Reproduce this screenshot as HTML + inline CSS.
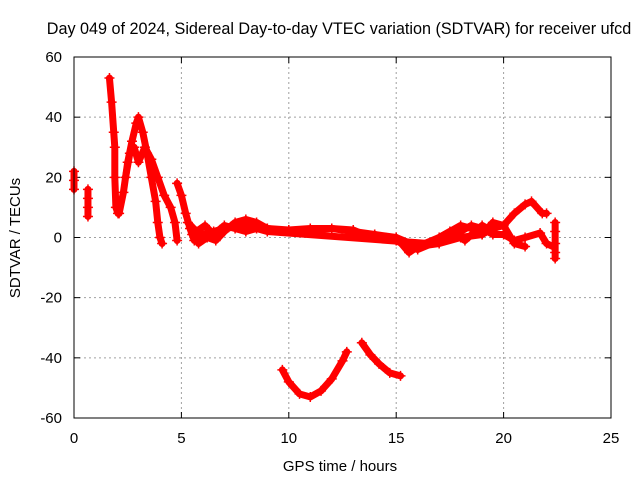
<!DOCTYPE html>
<html><head><meta charset="utf-8"><style>
body{margin:0;background:#fff;}
svg{display:block;font-family:"Liberation Sans",sans-serif;}
</style></head><body>
<svg id="chart" width="640" height="480" viewBox="0 0 640 480" xmlns="http://www.w3.org/2000/svg">
<rect width="640" height="480" fill="#fff"/>
<text x="339" y="34" font-size="16.2" text-anchor="middle">Day 049 of 2024, Sidereal Day-to-day VTEC variation (SDTVAR) for receiver ufcd</text>
<text x="340" y="471" font-size="15" text-anchor="middle">GPS time / hours</text>
<text transform="translate(20,238) rotate(-90)" font-size="15" text-anchor="middle">SDTVAR / TECUs</text>
<g id="grid"></g><g id="ticks"></g><g id="series"></g>
<rect x="74" y="57" width="537" height="361" fill="none" stroke="#000" stroke-width="1"/>
</svg>
<script>
const xTicks=[0,5,10,15,20,25];
const yTicks=[60,40,20,0,-20,-40,-60];
const seriesA=[[0,22],[0,19],[0,16]];
const seriesB=[[0.65,16],[0.65,13],[0.65,10],[0.65,7]];
const seriesC=[[1.65,53],[1.75,45],[1.85,35],[1.9,30],[1.9,20],[1.95,10],[2.05,8]];
const seriesD=[[2.1,8],[2.3,15],[2.5,25],[2.7,32],[2.9,38],[3.0,40],[3.2,35],[3.4,28],[3.6,20],[3.8,12],[3.9,5],[4.0,0],[4.1,-2]];
const seriesE=[[2.4,20],[2.6,28],[2.8,30],[3.0,25],[3.3,30],[3.6,26],[3.9,20],[4.2,14],[4.5,10],[4.7,5],[4.8,-1]];
const seriesF=[[4.8,18],[5.0,14],[5.2,8],[5.4,3],[5.6,-1],[6,1],[6.5,2],[7,3],[8,4],[9,3],[10,2.5],[11,3],[12,3],[13,2],[14,1],[15,0],[15.6,-5],[16,-3],[17,-2],[18,0],[19,1],[19.5,3],[20,4],[20.5,8],[21,11],[21.3,12],[21.8,8],[22,8]];
const seriesG=[[5.5,1],[5.8,-2],[6.2,0],[6.6,-1],[7,2],[7.5,5],[8,6],[8.5,5],[9,3],[10,2],[11,2.5],[12,3],[13,2.5],[13.5,1],[14,1],[14.5,0],[15,-1],[15.5,-3],[16,-4],[17,-1],[18,2],[18.5,4],[19,3],[19.5,1],[20,1],[20.5,-1],[21,0],[21.7,1.5],[22,-2],[22.3,-3]];
const seriesH=[[15,0],[16,-3],[17,0],[18,4],[18.5,3],[19,1],[19.5,5],[20,4],[20.5,-2],[21,-3]];
const seriesL=[[5.3,5],[5.7,2],[6.1,4],[6.5,1],[7,4],[7.5,3],[8,2],[8.5,3],[9,2],[16.5,-2],[17.5,2],[18.2,-1],[19,4],[19.5,2]];
const seriesI=[[9.7,-44],[10,-48],[10.5,-52],[11,-53],[11.5,-51],[12,-47],[12.5,-41],[12.7,-38]];
const seriesJ=[[13.4,-35],[13.8,-39],[14.2,-42],[14.7,-45],[15.2,-46]];
const seriesK=[[22.4,5],[22.4,2],[22.4,-2],[22.4,-5],[22.4,-7]];
const allSeries=[seriesA,seriesB,seriesC,seriesD,seriesE,seriesF,seriesG,seriesH,seriesL,seriesI,seriesJ,seriesK];
const NS="http://www.w3.org/2000/svg";
const X0=74,X1=611,Y0=418,Y1=57;
function xs(v){return X0+(v-0)/(25-0)*(X1-X0);}
function ys(v){return Y0-(v+60)/120*(Y0-Y1);}
function mk(t,a,p){const e=document.createElementNS(NS,t);for(const k in a)e.setAttribute(k,a[k]);p.appendChild(e);return e;}
const grid=document.getElementById('grid'),ticks=document.getElementById('ticks'),ser=document.getElementById('series');
xTicks.forEach(v=>{const x=xs(v);
 if(v>0&&v<25){const g=mk('line',{x1:x,x2:x,y1:Y1,y2:Y0,stroke:'#a0a0a0','stroke-dasharray':'2,3'},grid);
 
 }
 mk('line',{x1:x,x2:x,y1:Y0,y2:Y0-6,stroke:'#000'},ticks);
 mk('line',{x1:x,x2:x,y1:Y1,y2:Y1+6,stroke:'#000'},ticks);
 const t=mk('text',{x:x,y:Y0+25,'font-size':15,'text-anchor':'middle'},ticks);t.textContent=v;
 
 
});
yTicks.forEach(v=>{const y=ys(v);
 if(v>-60&&v<60){const g=mk('line',{x1:X0,x2:X1,y1:y,y2:y,stroke:'#a0a0a0','stroke-dasharray':'2,3'},grid);
 
 }
 mk('line',{x1:X0,x2:X0+6,y1:y,y2:y,stroke:'#000'},ticks);
 mk('line',{x1:X1,x2:X1-6,y1:y,y2:y,stroke:'#000'},ticks);
 const t=mk('text',{x:X0-12,y:y+5,'font-size':15,'text-anchor':'end'},ticks);t.textContent=v;
 
 
});
allSeries.forEach((s,i)=>{
 const g=mk('g',{},ser);
 
 
 mk('polyline',{points:s.map(p=>xs(p[0])+','+ys(p[1])).join(' '),fill:'none',stroke:'#f00','stroke-width':7,'stroke-linejoin':'round','stroke-linecap':'round'},g);
 s.forEach(p=>{const x=xs(p[0]),y=ys(p[1]);
  const m=mk('path',{d:`M${x-5},${y}H${x+5}M${x},${y-5}V${y+5}`,stroke:'#f00','stroke-width':1.5},g);
  
  
 });
});
</script>
</body></html>
